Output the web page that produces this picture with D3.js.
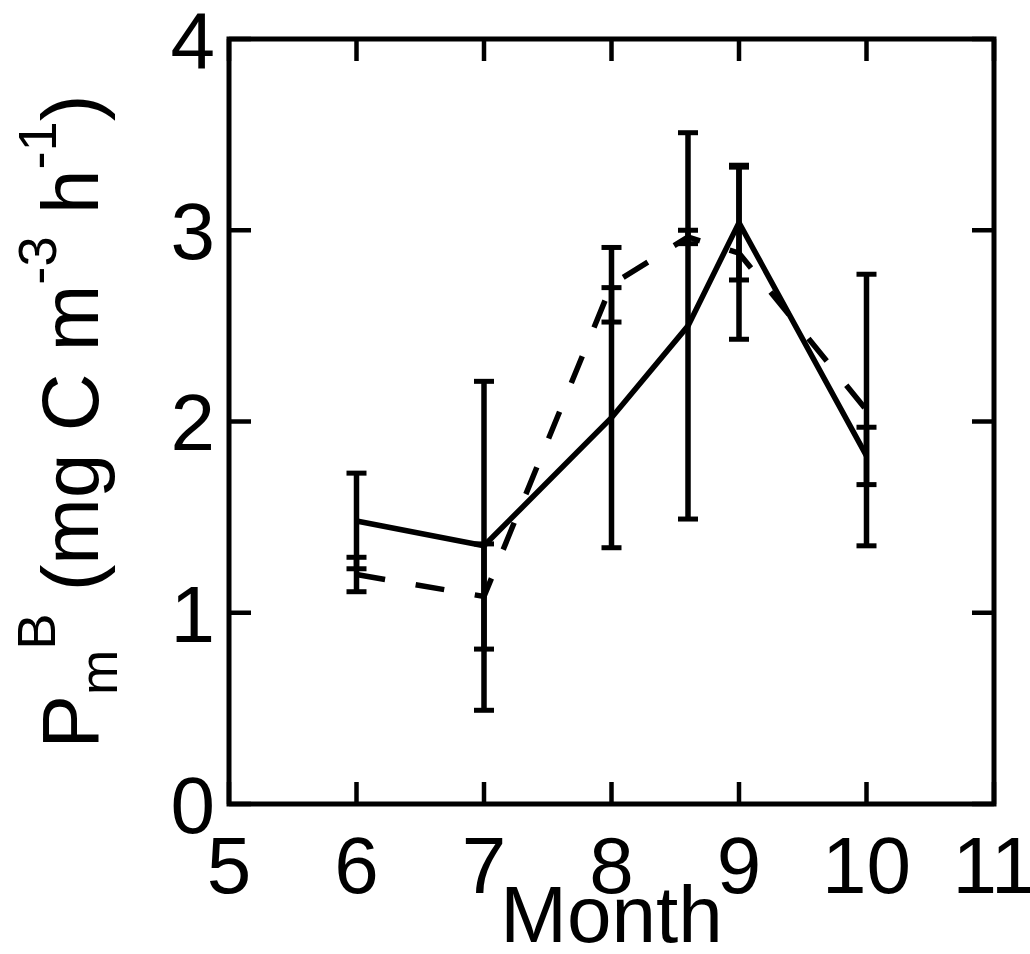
<!DOCTYPE html>
<html>
  <head>
    <meta charset="utf-8">
    <script src="https://cdnjs.cloudflare.com/ajax/libs/d3/7.8.5/d3.min.js"></script>
    <style>
      body { margin: 0px; background: #fff; }
      text { font-family: "Liberation Sans", Arial, sans-serif; fill: #000; }
    </style>
  </head>
  <body>
    <svg width="1030" height="954"></svg>
    <script>
      // months sampled (8.6 = mid-August cruise)
      var months = [6, 7, 8, 8.6, 9, 10];
      var solidMean = [1.48, 1.35, 2.02, 2.50, 3.04, 1.82];
      var solidErr = [0.25, 0.86, 0.68, 1.01, 0.30, 0.15];
      var dashMean = [1.20, 1.085, 2.715, 2.965, 2.88, 2.06];
      var dashErr = [0.09, 0.275, 0.195, 0.035, 0.45, 0.71];
      var xTicks = [5, 6, 7, 8, 9, 10, 11];
      var yTicks = [0, 1, 2, 3, 4];

      var svg = d3.select('svg');
      var margin = { top: 39, right: 36, bottom: 150, left: 229 };
      var width = +svg.attr('width');
      var height = +svg.attr('height');
      var x0 = margin.left, x1 = width - margin.right;
      var y0 = height - margin.bottom, y1 = margin.top;

      var xScale = d3.scaleLinear().domain([5, 11]).range([x0, x1]);
      var yScale = d3.scaleLinear().domain([0, 4]).range([y0, y1]);

      var fontSize = 80;
      var tickLen = 22;

      var series = [
        { mean: solidMean, err: solidErr, dash: null },
        { mean: dashMean, err: dashErr, dash: '29,31' }
      ];

      var line = d3.line()
        .x(d => xScale(d.m))
        .y(d => yScale(d.v));

      var marksG = svg.append('g');
      series.forEach(function (s) {
        var pts = months.map((m, i) => ({ m: m, v: s.mean[i], e: s.err[i] }));
        var g = marksG.append('g');
        g.selectAll('line.bar').data(pts).enter().append('line')
          .attr('x1', d => xScale(d.m)).attr('x2', d => xScale(d.m))
          .attr('y1', d => yScale(d.v - d.e)).attr('y2', d => yScale(d.v + d.e))
          .attr('stroke', '#000').attr('stroke-width', 5.5);
        [-1, 1].forEach(function (sign) {
          g.selectAll('line.cap' + sign).data(pts).enter().append('line')
            .attr('x1', d => xScale(d.m) - 10).attr('x2', d => xScale(d.m) + 10)
            .attr('y1', d => yScale(d.v + sign * d.e)).attr('y2', d => yScale(d.v + sign * d.e))
            .attr('stroke', '#000').attr('stroke-width', 5);
        });
        g.append('path').datum(pts)
          .attr('d', line)
          .attr('fill', 'none')
          .attr('stroke', '#000')
          .attr('stroke-width', 5.5)
          .attr('stroke-dasharray', s.dash);
      });

      // inward ticks on all four sides
      var axesG = svg.append('g').attr('stroke', '#000').attr('stroke-width', 4.5);
      axesG.selectAll('line.xb').data(xTicks).enter().append('line')
        .attr('x1', d => xScale(d)).attr('x2', d => xScale(d))
        .attr('y1', y0).attr('y2', y0 - tickLen);
      axesG.selectAll('line.xt').data(xTicks).enter().append('line')
        .attr('x1', d => xScale(d)).attr('x2', d => xScale(d))
        .attr('y1', y1).attr('y2', y1 + tickLen);
      axesG.selectAll('line.yl').data(yTicks).enter().append('line')
        .attr('y1', d => yScale(d)).attr('y2', d => yScale(d))
        .attr('x1', x0).attr('x2', x0 + tickLen);
      axesG.selectAll('line.yr').data(yTicks).enter().append('line')
        .attr('y1', d => yScale(d)).attr('y2', d => yScale(d))
        .attr('x1', x1).attr('x2', x1 - tickLen);
      svg.append('rect')
        .attr('x', x0).attr('y', y1)
        .attr('width', x1 - x0).attr('height', y0 - y1)
        .attr('fill', 'none').attr('stroke', '#000').attr('stroke-width', 5);

      // tick labels
      svg.selectAll('text.xt').data(xTicks).enter().append('text')
        .attr('x', d => xScale(d)).attr('y', 893)
        .attr('text-anchor', 'middle')
        .style('font-size', fontSize + 'px')
        .text(d => d);
      svg.selectAll('text.yt').data(yTicks).enter().append('text')
        .attr('x', x0 - 14).attr('y', d => yScale(d) + fontSize * 0.36)
        .attr('text-anchor', 'end')
        .style('font-size', fontSize + 'px')
        .text(d => d);

      svg.append('text')
        .attr('x', (x0 + x1) / 2).attr('y', 942)
        .attr('text-anchor', 'middle')
        .style('font-size', fontSize + 'px')
        .text('Month');

      // y label with sub/superscripts
      var yl = svg.append('text')
        .attr('transform', `translate(98,${(y0 + y1) / 2}) rotate(-90)`)
        .attr('text-anchor', 'middle')
        .style('font-size', fontSize + 'px');
      var small = fontSize * 0.68 + 'px';
      var parts = [
        { t: 'P' },
        { t: 'm', dy: 0.24, s: true },
        { t: 'B', dy: -0.78, s: true },
        { t: ' (mg C m', dy: 0.54 },
        { t: '-3', dy: -0.52, s: true },
        { t: ' h', dy: 0.52 },
        { t: '-1', dy: -0.52, s: true },
        { t: ')', dy: 0.52 }
      ];
      parts.forEach(function (p) {
        var ts = yl.append('tspan').text(p.t);
        if (p.dy) ts.attr('dy', (p.dy * fontSize) + 'px');
        if (p.s) ts.style('font-size', small);
      });
    </script>
  </body>
</html>
